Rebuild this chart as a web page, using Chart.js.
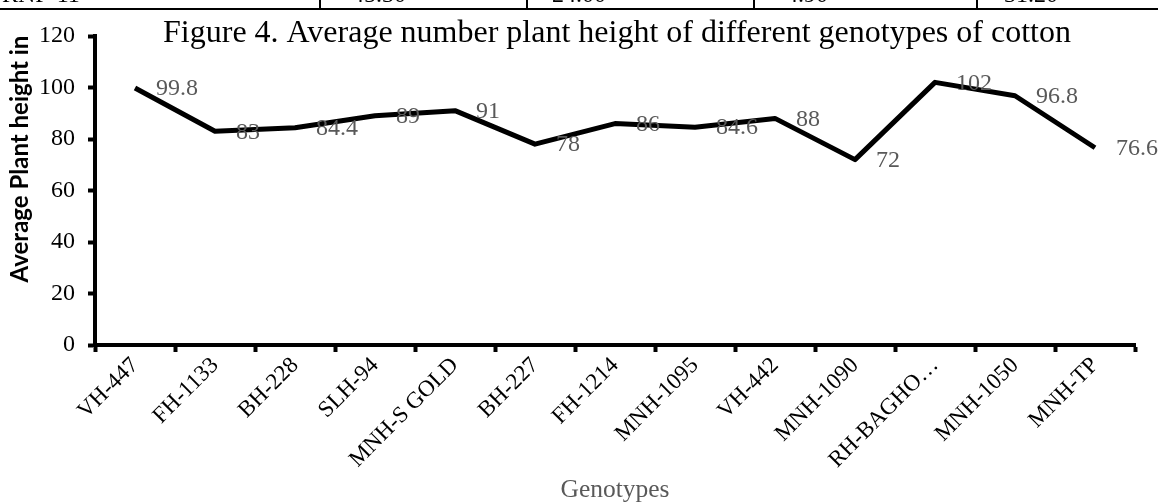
<!DOCTYPE html>
<html><head><meta charset="utf-8">
<script src="https://cdn.jsdelivr.net/npm/chart.js@4.4.0/dist/chart.umd.min.js"></script>
<style>
html,body{margin:0;padding:0;background:#fff;}
#wrap{position:relative;width:1158px;height:503px;overflow:hidden;background:#fff;}
#c{position:absolute;left:0;top:0;}
.hl{position:absolute;left:0;top:8px;width:1158px;height:2px;background:#000;}
.vl{position:absolute;top:0;width:2px;height:9px;background:#000;}
.cell{position:absolute;top:-18px;font:24px "Liberation Serif";line-height:24px;color:#000;white-space:nowrap;}
</style></head>
<body><div id="wrap">
<canvas id="c" width="1158" height="503"></canvas>
<div class="hl"></div>
<div class="vl" style="left:319px"></div>
<div class="vl" style="left:526px"></div>
<div class="vl" style="left:753px"></div>
<div class="vl" style="left:976px"></div>
<div class="cell" style="left:2px">RNP-11</div>
<div class="cell" style="left:352px">45.30</div>
<div class="cell" style="left:552px">24.00</div>
<div class="cell" style="left:786px">4.90</div>
<div class="cell" style="left:1004px">31.20</div>
</div>
<script>
const categories = ["VH-447","FH-1133","BH-228","SLH-94","MNH-S GOLD","BH-227","FH-1214","MNH-1095","VH-442","MNH-1090","RH-BAGHO\u2026","MNH-1050","MNH-TP"];
const plantHeight = [99.8, 83, 84.4, 89, 91, 78, 86, 84.6, 88, 72, 102, 96.8, 76.6];
const yTickLabels = [0, 20, 40, 60, 80, 100, 120];
const chartTitle = "Figure 4. Average number plant height of different genotypes of cotton";
const yTitle = "Average Plant height in";
const xTitle = "Genotypes";

const textPlugin = {
  id: 'texts',
  afterDatasetsDraw(chart) {
    const ctx = chart.ctx;
    const meta = chart.getDatasetMeta(0);
    ctx.save();
    ctx.font = '24px "Liberation Serif"';
    ctx.fillStyle = '#595959';
    ctx.textAlign = 'left';
    ctx.textBaseline = 'middle';
    meta.data.forEach((pt, i) => {
      ctx.fillText(String(plantHeight[i]), pt.x + 21, pt.y + 1);
    });
    ctx.restore();
  },
  afterDraw(chart) {
    const ctx = chart.ctx;
    const a = chart.chartArea;
    const cx = (a.left + a.right) / 2;
    ctx.save();
    ctx.fillStyle = '#000';
    ctx.font = '32px "Liberation Serif"';
    ctx.textAlign = 'center';
    ctx.textBaseline = 'alphabetic';
    ctx.fillText(chartTitle, cx + 2, 42);
    ctx.fillStyle = '#595959';
    ctx.font = '25.5px "Liberation Serif"';
    ctx.fillText(xTitle, cx, 497);
    ctx.translate(20, 159);
    ctx.rotate(-Math.PI / 2);
    ctx.fillStyle = '#000';
    ctx.font = 'bold 24px Lato';
    ctx.textBaseline = 'middle';
    ctx.fillText(yTitle, 0, 0);
    ctx.restore();
  }
};

new Chart(document.getElementById('c'), {
  type: 'line',
  data: {
    labels: categories,
    datasets: [{
      data: plantHeight,
      borderColor: '#000',
      borderWidth: 5,
      borderJoinStyle: 'round',
      borderCapStyle: 'butt',
      pointRadius: 0,
      tension: 0,
      fill: false
    }]
  },
  options: {
    responsive: false,
    animation: false,
    layout: { padding: { top: 36, right: 23, left: 0, bottom: 0 } },
    plugins: { legend: { display: false }, title: { display: false }, tooltip: { enabled: false } },
    scales: {
      x: {
        type: 'category',
        offset: true,
        afterFit(s) { s.height = 158; },
        grid: { display: true, offset: true, drawOnChartArea: false, drawTicks: true, tickLength: 7, tickWidth: 4, tickColor: '#000' },
        border: { display: true, color: '#000', width: 4 },
        ticks: { autoSkip: false, maxRotation: 45, minRotation: 45, color: '#000', font: { family: 'Liberation Serif', size: 23 }, padding: 0 }
      },
      y: {
        min: yTickLabels[0],
        max: yTickLabels[yTickLabels.length - 1],
        afterFit(s) { s.width = 95; },
        grid: { display: true, drawOnChartArea: false, drawTicks: true, tickLength: 7, tickWidth: 4, tickColor: '#000' },
        border: { display: true, color: '#000', width: 4 },
        ticks: { stepSize: yTickLabels[1] - yTickLabels[0], color: '#000', font: { family: 'Liberation Serif', size: 24 }, padding: 13 }
      }
    }
  },
  plugins: [textPlugin]
});
</script>
</body></html>
